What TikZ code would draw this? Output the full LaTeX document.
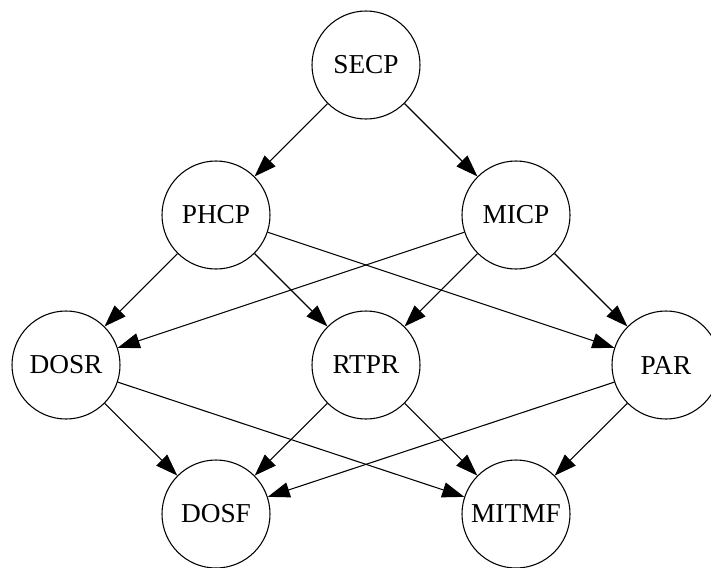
\documentclass[tikz,border=0pt]{standalone}
\usepackage{fontspec}
\setmainfont{Liberation Serif}
\usetikzlibrary{arrows.meta}
\begin{document}
\begin{tikzpicture}[x=0.75pt,y=-0.75pt,
  state/.style={circle,draw,line width=0.8pt,minimum size=81pt,inner sep=0pt,
    font=\fontsize{20.5}{24}\selectfont},
  link/.style={line width=0.8pt,-{Triangle[length=16.5pt,width=11.5pt]}}]
\useasboundingbox (0,0) rectangle (711,568);
\clip (0,0) rectangle (711,568);
% layer 1
\node[state] (secp)  at (366,65)  {SECP};
% layer 2
\node[state] (phcp)  at (216,215) {PHCP};
\node[state] (micp)  at (516,215) {MICP};
% layer 3
\node[state] (dosr)  at (66,365)  {DOSR};
\node[state] (rtpr)  at (366,365) {RTPR};
\node[state] (par)   at (666,365) {PAR};
% layer 4
\node[state] (dosf)  at (216,514) {DOSF};
\node[state] (mitmf) at (516,514) {MITMF};
% dependencies
\draw[link] (secp) -- (phcp);
\draw[link] (secp) -- (micp);
\draw[link] (phcp) -- (dosr);
\draw[link] (phcp) -- (rtpr);
\draw[link] (phcp) -- (par);
\draw[link] (micp) -- (dosr);
\draw[link] (micp) -- (rtpr);
\draw[link] (micp) -- (par);
\draw[link] (dosr) -- (dosf);
\draw[link] (dosr) -- (mitmf);
\draw[link] (rtpr) -- (dosf);
\draw[link] (rtpr) -- (mitmf);
\draw[link] (par)  -- (dosf);
\draw[link] (par)  -- (mitmf);
\end{tikzpicture}
\end{document}
